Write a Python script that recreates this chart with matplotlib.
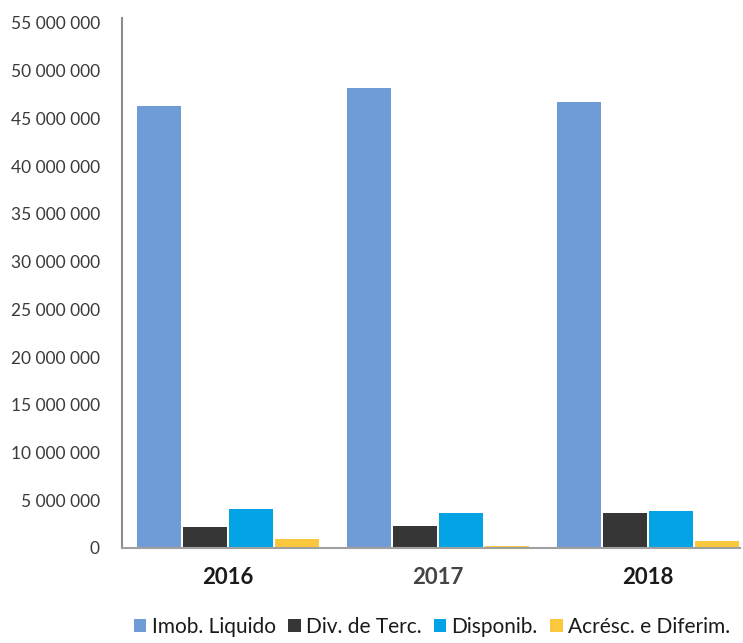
import matplotlib
matplotlib.use("Agg")
import matplotlib.pyplot as plt
from matplotlib.ticker import FuncFormatter
import numpy as np

years = ["2016", "2017", "2018"]
series_names = ["Imob. Liquido", "Div. de Terc.", "Disponib.", "Acrésc. e Diferim."]
imob_liquido = [46.3e6, 48.2e6, 46.7e6]
div_terc = [2.2e6, 2.35e6, 3.65e6]
disponib = [4.1e6, 3.65e6, 3.9e6]
acresc_diferim = [0.95e6, 0.25e6, 0.7e6]
colors = ["#6f9bd6", "#363636", "#03a3e6", "#fbc73c"]

plt.rcParams["font.family"] = ["Lato", "DejaVu Sans"]

fig = plt.figure(figsize=(7.43, 6.43), dpi=100)
ax = fig.add_axes([122 / 743, 95 / 643, 618 / 743, 530 / 643])

x = np.arange(len(years))
width = 0.21
step = 0.22
all_series = [imob_liquido, div_terc, disponib, acresc_diferim]
for i, (name, values, color) in enumerate(zip(series_names, all_series, colors)):
    ax.bar(x + (i - 1.5) * step, values, width, color=color, label=name)

ax.set_xlim(-0.505, 2.438)
ax.set_ylim(0, 55.5e6)
ax.set_yticks(np.arange(0, 55e6 + 1, 5e6))
ax.yaxis.set_major_formatter(FuncFormatter(lambda v, _: f"{int(v):,}".replace(",", " ")))
ax.tick_params(axis="y", length=0, pad=16, labelsize=12.5, labelcolor="#3a3a3a")
ax.set_xticks(x)
ax.set_xticklabels(years)
ax.tick_params(axis="x", length=0, pad=14, labelsize=16)
for lbl in ax.get_xticklabels():
    lbl.set_fontweight("bold")
    lbl.set_color("#444444" if lbl.get_text() == "2017" else "#1a1a1a")

for side in ["top", "right"]:
    ax.spines[side].set_visible(False)
ax.spines["left"].set_color("#8c8c8c")
ax.spines["left"].set_linewidth(1.5)
ax.spines["bottom"].set_color("#a0a0a0")
ax.spines["bottom"].set_linewidth(1.5)

fig.legend(loc="center", bbox_to_anchor=(432 / 743, 16 / 643), ncol=4, frameon=False,
           fontsize=15, handlelength=0.6, handleheight=0.6, handletextpad=0.25,
           columnspacing=0.6, labelcolor="#1a1a1a")

fig.savefig("out.png", dpi=100)
